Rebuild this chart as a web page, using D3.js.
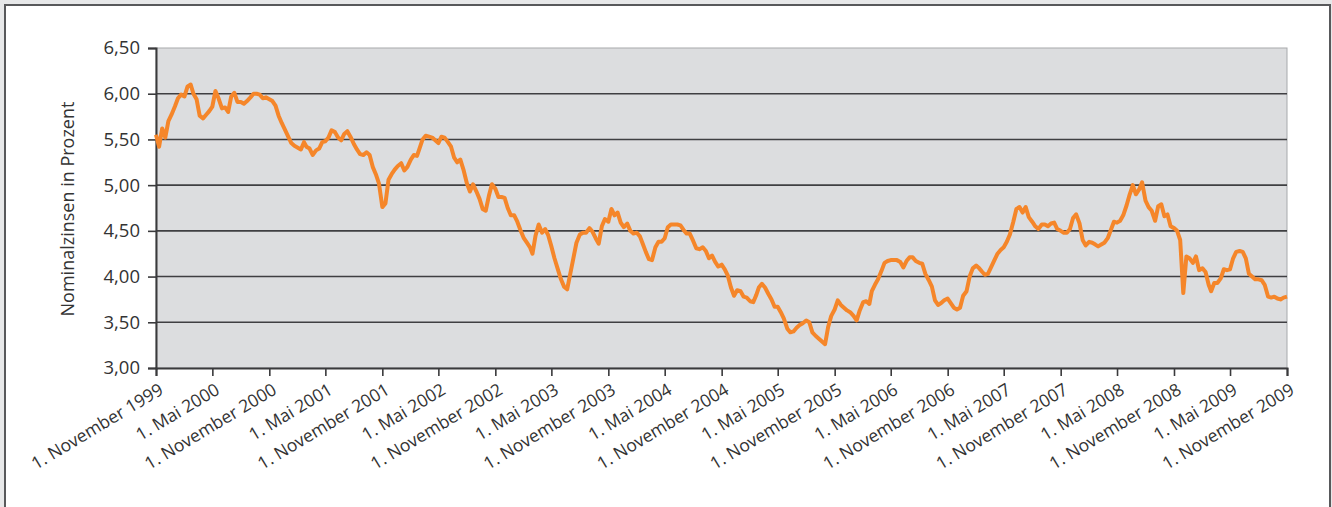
<!DOCTYPE html>
<html>
<head>
<meta charset="utf-8">
<script src="https://cdn.jsdelivr.net/npm/d3@7"></script>
<style>
  html, body { margin: 0; padding: 0; background: #e7e8e9; }
  svg { display: block; }
  text { font-family: "Open Sans", "DejaVu Sans", sans-serif; fill: #333; }
</style>
</head>
<body>
<svg id="chart"></svg>
<script>
// readings every 1st, 11th and 21st of each month, Nov 1999 - Nov 2009
const dekadDays = [1, 11, 21]
const rates = [
  5.55, 5.42, 5.62, 5.52, 5.70, 5.77, 5.86, 5.95, 5.99, 5.97, 6.08, 6.10,
  6.00, 5.94, 5.76, 5.73, 5.77, 5.81, 5.86, 6.03, 5.95, 5.84, 5.85, 5.80,
  5.97, 6.01, 5.91, 5.91, 5.89, 5.92, 5.96, 6.00, 6.00, 5.99, 5.95, 5.96,
  5.94, 5.92, 5.87, 5.76, 5.68, 5.61, 5.53, 5.46, 5.43, 5.41, 5.39, 5.47,
  5.42, 5.40, 5.33, 5.38, 5.40, 5.47, 5.48, 5.52, 5.60, 5.58, 5.52, 5.49,
  5.56, 5.59, 5.53, 5.45, 5.39, 5.34, 5.33, 5.36, 5.33, 5.20, 5.12, 5.02,
  4.76, 4.80, 5.06, 5.12, 5.17, 5.21, 5.24, 5.16, 5.20, 5.28, 5.33, 5.32,
  5.40, 5.50, 5.54, 5.53, 5.52, 5.49, 5.46, 5.53, 5.52, 5.47, 5.42, 5.30,
  5.25, 5.28, 5.17, 5.02, 4.93, 5.01, 4.93, 4.85, 4.74, 4.72, 4.88, 5.01,
  4.96, 4.87, 4.87, 4.86, 4.75, 4.67, 4.67, 4.60, 4.51, 4.42, 4.37, 4.32,
  4.25, 4.45, 4.57, 4.48, 4.52, 4.45, 4.33, 4.20, 4.09, 3.97, 3.89, 3.86,
  4.03, 4.20, 4.37, 4.46, 4.48, 4.48, 4.53, 4.49, 4.42, 4.36, 4.55, 4.63,
  4.60, 4.74, 4.67, 4.70, 4.59, 4.54, 4.58, 4.50, 4.47, 4.48, 4.44, 4.35,
  4.27, 4.19, 4.18, 4.32, 4.38, 4.38, 4.42, 4.54, 4.57, 4.57, 4.57, 4.56,
  4.51, 4.47, 4.47, 4.39, 4.31, 4.30, 4.32, 4.28, 4.20, 4.23, 4.16, 4.11,
  4.13, 4.08, 4.01, 3.88, 3.79, 3.85, 3.84, 3.78, 3.77, 3.73, 3.72, 3.80,
  3.88, 3.92, 3.88, 3.81, 3.75, 3.67, 3.67, 3.61, 3.54, 3.43, 3.39, 3.40,
  3.44, 3.47, 3.49, 3.52, 3.50, 3.39, 3.35, 3.32, 3.29, 3.26, 3.45, 3.57,
  3.64, 3.74, 3.69, 3.66, 3.63, 3.61, 3.57, 3.52, 3.63, 3.72, 3.73, 3.70,
  3.84, 3.91, 3.97, 4.06, 4.15, 4.17, 4.18, 4.18, 4.18, 4.16, 4.10, 4.17,
  4.21, 4.21, 4.17, 4.15, 4.14, 4.03, 3.96, 3.89, 3.74, 3.69, 3.71, 3.74,
  3.76, 3.71, 3.66, 3.64, 3.66, 3.79, 3.84, 4.00, 4.09, 4.12, 4.09, 4.05,
  4.02, 4.03, 4.10, 4.18, 4.25, 4.29, 4.32, 4.38, 4.46, 4.60, 4.74, 4.76,
  4.70, 4.76, 4.65, 4.60, 4.55, 4.52, 4.57, 4.57, 4.55, 4.58, 4.59, 4.52,
  4.50, 4.48, 4.48, 4.52, 4.64, 4.68, 4.58, 4.40, 4.34, 4.38, 4.37, 4.35,
  4.33, 4.35, 4.37, 4.42, 4.51, 4.60, 4.59, 4.61, 4.67, 4.78, 4.90, 5.00,
  4.90, 4.95, 5.03, 4.83, 4.76, 4.72, 4.61, 4.77, 4.79, 4.66, 4.68, 4.55,
  4.53, 4.50, 4.40, 3.82, 4.22, 4.20, 4.15, 4.22, 4.07, 4.09, 4.05, 3.91,
  3.84, 3.93, 3.93, 3.98, 4.08, 4.07, 4.08, 4.20, 4.27, 4.28, 4.27, 4.20,
  4.03, 4.00, 3.97, 3.97, 3.96, 3.91, 3.78, 3.77, 3.78, 3.76, 3.75, 3.77,
  3.78
]
const tickDates = [
  "1999-11-01", "2000-05-01", "2000-11-01", "2001-05-01", "2001-11-01",
  "2002-05-01", "2002-11-01", "2003-05-01", "2003-11-01", "2004-05-01",
  "2004-11-01", "2005-05-01", "2005-11-01", "2006-05-01", "2006-11-01",
  "2007-05-01", "2007-11-01", "2008-05-01", "2008-11-01", "2009-05-01",
  "2009-11-01"
]
const tickLabels = [
  "1. November 1999", "1. Mai 2000", "1. November 2000", "1. Mai 2001", "1. November 2001",
  "1. Mai 2002", "1. November 2002", "1. Mai 2003", "1. November 2003", "1. Mai 2004",
  "1. November 2004", "1. Mai 2005", "1. November 2005", "1. Mai 2006", "1. November 2006",
  "1. Mai 2007", "1. November 2007", "1. Mai 2008", "1. November 2008", "1. Mai 2009",
  "1. November 2009"
]
const yTicks = [3, 3.5, 4, 4.5, 5, 5.5, 6, 6.5]
const yTitle = "Nominalzinsen in Prozent"

const parse = d3.timeParse('%Y-%m-%d')
const months = d3.timeMonth.range(parse(tickDates[0]), d3.timeMonth.offset(parse(tickDates[tickDates.length - 1]), 1))
const dates = months.flatMap(m => dekadDays.map(d => new Date(m.getFullYear(), m.getMonth(), d)))
const data = rates.map((v, i) => ({ date: dates[i], value: v }))

const width = 1332, height = 507
const plot = { left: 156, right: 1287, top: 48, bottom: 368 }

const svg = d3.select('#chart')
  .attr('width', width)
  .attr('height', height)

// white panel with frame
svg.append('rect')
  .attr('x', 5).attr('y', 5)
  .attr('width', 1325).attr('height', 520)
  .attr('fill', '#fff')
  .attr('stroke', '#58595b')
  .attr('stroke-width', 2)

const x = d3.scaleTime()
  .domain([parse(tickDates[0]), parse(tickDates[tickDates.length - 1])])
  .range([plot.left, plot.right])

const y = d3.scaleLinear()
  .domain([3, 6.5])
  .range([plot.bottom, plot.top])

svg.append('rect')
  .attr('x', plot.left).attr('y', plot.top)
  .attr('width', plot.right - plot.left).attr('height', plot.bottom - plot.top)
  .attr('fill', '#dcdddf')
  .attr('stroke', '#a7a9ac')
  .attr('stroke-width', 1)

// gridlines
svg.append('g')
  .selectAll('line')
  .data(yTicks.filter(d => d > 3 && d < 6.5))
  .enter().append('line')
  .attr('x1', plot.left).attr('x2', plot.right)
  .attr('y1', d => y(d)).attr('y2', d => y(d))
  .attr('stroke', '#3f3f42')
  .attr('stroke-width', 1.6)

// y axis
const yAxis = svg.append('g')
  .attr('transform', `translate(${plot.left}, 0)`)
  .call(d3.axisLeft(y)
    .tickValues(yTicks)
    .tickSize(8)
    .tickPadding(8)
    .tickFormat(d => d3.format('.2f')(d).replace('.', ',')))
yAxis.select('.domain').attr('stroke', '#3a3a3c').attr('stroke-width', 2)
yAxis.selectAll('.tick line').attr('stroke', '#3a3a3c').attr('stroke-width', 1.6)
yAxis.selectAll('.tick text')
  .style('font-size', '18.5px')
  .attr('fill', '#333')

// x axis
const xAxis = svg.append('g')
  .attr('transform', `translate(0, ${plot.bottom})`)
  .call(d3.axisBottom(x)
    .tickValues(tickDates.map(parse))
    .tickSize(8)
    .tickFormat((d, i) => tickLabels[i]))
xAxis.select('.domain').attr('stroke', '#3a3a3c').attr('stroke-width', 2)
xAxis.selectAll('.tick line').attr('stroke', '#3a3a3c').attr('stroke-width', 1.6)
xAxis.selectAll('.tick text')
  .style('font-size', '17.5px')
  .attr('fill', '#333')
  .attr('text-anchor', 'end')
  .attr('x', 8)
  .attr('y', 25)
  .attr('dy', 0)
  .attr('transform', 'rotate(-31, 8, 25)')

// y title
svg.append('text')
  .attr('transform', `translate(74, ${(plot.top + plot.bottom) / 2 + 1}) rotate(-90)`)
  .attr('text-anchor', 'middle')
  .style('font-size', '18px')
  .attr('fill', '#333')
  .text(yTitle)

// series
svg.append('path')
  .datum(data)
  .attr('d', d3.line()
    .x(d => x(d.date))
    .y(d => y(d.value)))
  .attr('fill', 'none')
  .attr('stroke', '#f5862a')
  .attr('stroke-width', 4)
  .attr('stroke-linejoin', 'round')
</script>
</body>
</html>
